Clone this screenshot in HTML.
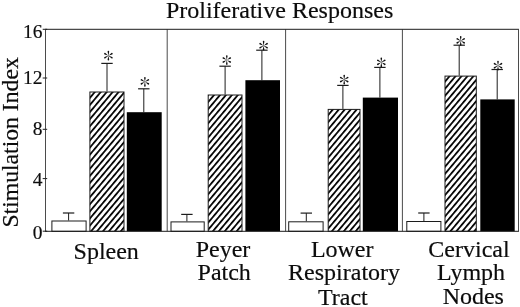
<!DOCTYPE html>
<html><head><meta charset="utf-8"><title>Proliferative Responses</title>
<style>
html,body{margin:0;padding:0;background:#fff;}
body{width:520px;height:307px;overflow:hidden;}
svg{display:block;will-change:transform;}
text{font-family:"Liberation Serif",serif;fill:#0c0c0c;stroke:#0c0c0c;stroke-width:0.18px;}
</style></head><body>
<svg width="520" height="307" viewBox="0 0 520 307">
<defs>
<g id="arm"><path d="M0,0.2 L-0.25,-1.2 L-0.8,-3.9 Q-0.85,-4.85 0,-4.85 Q0.85,-4.85 0.8,-3.9 L0.25,-1.2 Z" fill="#111"/></g>
<g id="ast"><use href="#arm"/><use href="#arm" transform="rotate(60)"/><use href="#arm" transform="rotate(120)"/><use href="#arm" transform="rotate(180)"/><use href="#arm" transform="rotate(240)"/><use href="#arm" transform="rotate(300)"/></g>
</defs>
<rect x="0" y="0" width="520" height="307" fill="#fff"/>

<text x="279.6" y="18.2" font-size="24" text-anchor="middle">Proliferative Responses</text>
<text transform="translate(18.3,142.4) rotate(-90)" font-size="23.7" text-anchor="middle">Stimulation Index</text>
<text x="42.5" y="37.8" font-size="19.5" text-anchor="end">16</text>
<line x1="42.7" x2="47.2" y1="29.3" y2="29.3" stroke="#1c1c1c" stroke-width="1"/>
<text x="42.5" y="84.1" font-size="19.5" text-anchor="end">12</text>
<line x1="42.7" x2="47.2" y1="78.0" y2="78.0" stroke="#1c1c1c" stroke-width="1"/>
<text x="42.5" y="134.8" font-size="19.5" text-anchor="end">8</text>
<line x1="42.7" x2="47.2" y1="129.3" y2="129.3" stroke="#1c1c1c" stroke-width="1"/>
<text x="42.5" y="185.7" font-size="19.5" text-anchor="end">4</text>
<line x1="42.7" x2="47.2" y1="178.6" y2="178.6" stroke="#1c1c1c" stroke-width="1"/>
<text x="42.5" y="239.1" font-size="19.5" text-anchor="end">0</text>
<line x1="42.7" x2="47.2" y1="231.2" y2="231.2" stroke="#1c1c1c" stroke-width="1"/>
<defs><pattern id="h1" patternUnits="userSpaceOnUse" width="4.56" height="50" patternTransform="translate(94.8,92.0) rotate(40) translate(-0.875,0)"><rect width="4.56" height="50" fill="#fff"/><rect width="1.75" height="50" fill="#000"/></pattern></defs>
<defs><pattern id="h4" patternUnits="userSpaceOnUse" width="4.56" height="50" patternTransform="translate(214.1,94.95) rotate(40) translate(-0.875,0)"><rect width="4.56" height="50" fill="#fff"/><rect width="1.75" height="50" fill="#000"/></pattern></defs>
<defs><pattern id="h7" patternUnits="userSpaceOnUse" width="4.56" height="50" patternTransform="translate(333.1,109.2) rotate(40) translate(-0.875,0)"><rect width="4.56" height="50" fill="#fff"/><rect width="1.75" height="50" fill="#000"/></pattern></defs>
<defs><pattern id="h10" patternUnits="userSpaceOnUse" width="4.56" height="50" patternTransform="translate(449.8,75.9) rotate(40) translate(-0.875,0)"><rect width="4.56" height="50" fill="#fff"/><rect width="1.75" height="50" fill="#000"/></pattern></defs>
<line x1="68.6" x2="68.6" y1="213.0" y2="220.5" stroke="#1c1c1c" stroke-width="1"/>
<line x1="62.89999999999999" x2="74.3" y1="213.0" y2="213.0" stroke="#1c1c1c" stroke-width="1.2"/>
<rect x="51.9" y="221.0" width="34.2" height="10.3" fill="#fff" stroke="#1c1c1c" stroke-width="1"/>
<line x1="107" x2="107" y1="63.4" y2="91.5" stroke="#1c1c1c" stroke-width="1"/>
<line x1="101.3" x2="112.7" y1="63.4" y2="63.4" stroke="#1c1c1c" stroke-width="1.2"/>
<rect x="89.9" y="92.0" width="34.1" height="139.3" fill="url(#h1)" stroke="#1c1c1c" stroke-width="1"/>
<use href="#ast" x="108.4" y="55.7"/>
<line x1="143.8" x2="143.8" y1="88.8" y2="112.2" stroke="#1c1c1c" stroke-width="1"/>
<line x1="138.10000000000002" x2="149.5" y1="88.8" y2="88.8" stroke="#1c1c1c" stroke-width="1.2"/>
<rect x="126.8" y="112.2" width="34.9" height="119.1" fill="#000"/>
<use href="#ast" x="144.9" y="81.8"/>
<line x1="186.9" x2="186.9" y1="214.4" y2="221.4" stroke="#1c1c1c" stroke-width="1"/>
<line x1="181.20000000000002" x2="192.6" y1="214.4" y2="214.4" stroke="#1c1c1c" stroke-width="1.2"/>
<rect x="171.0" y="221.9" width="33.2" height="9.4" fill="#fff" stroke="#1c1c1c" stroke-width="1"/>
<line x1="225.1" x2="225.1" y1="66.2" y2="94.5" stroke="#1c1c1c" stroke-width="1"/>
<line x1="219.4" x2="230.79999999999998" y1="66.2" y2="66.2" stroke="#1c1c1c" stroke-width="1.2"/>
<rect x="208.2" y="95.0" width="33.8" height="136.3" fill="url(#h4)" stroke="#1c1c1c" stroke-width="1"/>
<use href="#ast" x="226.8" y="60.0"/>
<line x1="261.9" x2="261.9" y1="50.2" y2="80.2" stroke="#1c1c1c" stroke-width="1"/>
<line x1="256.2" x2="267.59999999999997" y1="50.2" y2="50.2" stroke="#1c1c1c" stroke-width="1.2"/>
<rect x="245.4" y="80.2" width="34.6" height="151.1" fill="#000"/>
<use href="#ast" x="263.6" y="45.7"/>
<line x1="306.3" x2="306.3" y1="213.1" y2="221.3" stroke="#1c1c1c" stroke-width="1"/>
<line x1="300.6" x2="312.0" y1="213.1" y2="213.1" stroke="#1c1c1c" stroke-width="1.2"/>
<rect x="288.7" y="221.8" width="34.4" height="9.5" fill="#fff" stroke="#1c1c1c" stroke-width="1"/>
<line x1="342.9" x2="342.9" y1="85.4" y2="108.9" stroke="#1c1c1c" stroke-width="1"/>
<line x1="337.2" x2="348.59999999999997" y1="85.4" y2="85.4" stroke="#1c1c1c" stroke-width="1.2"/>
<rect x="328.2" y="109.4" width="31.8" height="121.9" fill="url(#h7)" stroke="#1c1c1c" stroke-width="1"/>
<use href="#ast" x="344.2" y="79.6"/>
<line x1="379.9" x2="379.9" y1="67.4" y2="97.6" stroke="#1c1c1c" stroke-width="1"/>
<line x1="374.2" x2="385.59999999999997" y1="67.4" y2="67.4" stroke="#1c1c1c" stroke-width="1.2"/>
<rect x="362.8" y="97.6" width="35.2" height="133.7" fill="#000"/>
<use href="#ast" x="381.3" y="62.3"/>
<line x1="423.9" x2="423.9" y1="213.0" y2="221" stroke="#1c1c1c" stroke-width="1"/>
<line x1="418.2" x2="429.59999999999997" y1="213.0" y2="213.0" stroke="#1c1c1c" stroke-width="1.2"/>
<rect x="406.8" y="221.5" width="34.1" height="9.8" fill="#fff" stroke="#1c1c1c" stroke-width="1"/>
<line x1="459.2" x2="459.2" y1="45.2" y2="75.6" stroke="#1c1c1c" stroke-width="1"/>
<line x1="453.5" x2="464.9" y1="45.2" y2="45.2" stroke="#1c1c1c" stroke-width="1.2"/>
<rect x="445.0" y="76.1" width="31.3" height="155.2" fill="url(#h10)" stroke="#1c1c1c" stroke-width="1"/>
<use href="#ast" x="460.7" y="40.8"/>
<line x1="497.2" x2="497.2" y1="69.5" y2="99.4" stroke="#1c1c1c" stroke-width="1"/>
<line x1="491.5" x2="502.9" y1="69.5" y2="69.5" stroke="#1c1c1c" stroke-width="1.2"/>
<rect x="480.3" y="99.4" width="34.4" height="131.9" fill="#000"/>
<use href="#ast" x="498.0" y="65.7"/>
<line x1="45.1" x2="518.9" y1="29.3" y2="29.3" stroke="#1c1c1c" stroke-width="1"/>
<line x1="45.1" x2="518.9" y1="231.3" y2="231.3" stroke="#1c1c1c" stroke-width="1"/>
<line x1="45.5" x2="45.5" y1="29.3" y2="231.3" stroke="#2a2a2a" stroke-width="0.85"/>
<line x1="167.2" x2="167.2" y1="29.3" y2="231.3" stroke="#2a2a2a" stroke-width="0.85"/>
<line x1="285.6" x2="285.6" y1="29.3" y2="231.3" stroke="#2a2a2a" stroke-width="0.85"/>
<line x1="402.4" x2="402.4" y1="29.3" y2="231.3" stroke="#2a2a2a" stroke-width="0.85"/>
<line x1="518.5" x2="518.5" y1="29.3" y2="231.3" stroke="#2a2a2a" stroke-width="0.85"/>
<text x="106.2" y="258.9" font-size="24" text-anchor="middle">Spleen</text>
<text x="223.0" y="257.0" font-size="24" text-anchor="middle">Peyer</text>
<text x="224.2" y="280.4" font-size="24" text-anchor="middle">Patch</text>
<text x="342.2" y="257.2" font-size="24" text-anchor="middle">Lower</text>
<text x="344.1" y="280.0" font-size="24" text-anchor="middle">Respiratory</text>
<text x="342.9" y="304.8" font-size="24" text-anchor="middle">Tract</text>
<text x="469.0" y="257.4" font-size="24" text-anchor="middle">Cervical</text>
<text x="471.1" y="280.4" font-size="24" text-anchor="middle">Lymph</text>
<text x="473.3" y="304.4" font-size="24" text-anchor="middle">Nodes</text>
</svg></body></html>
